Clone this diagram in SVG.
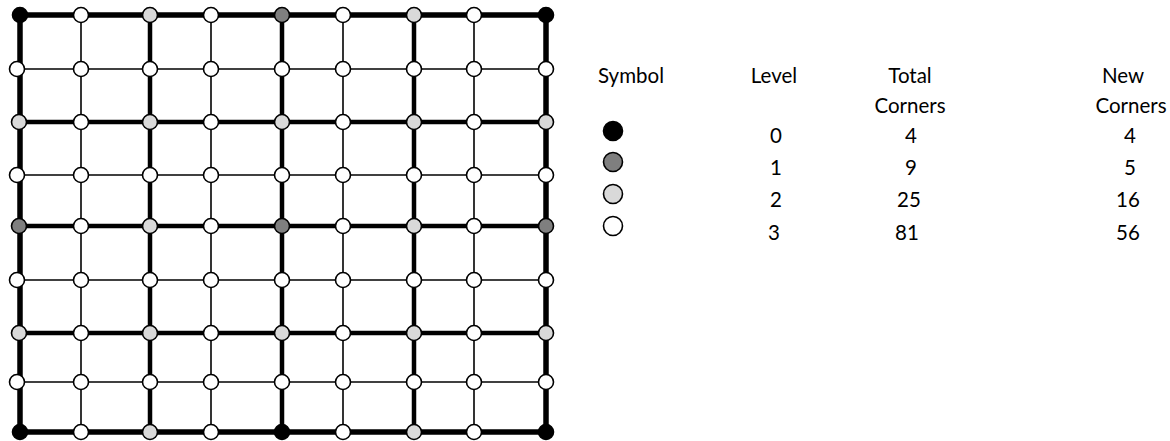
<svg xmlns="http://www.w3.org/2000/svg" width="1170" height="441" viewBox="0 0 1170 441">
<style>
.thin{stroke:#000;stroke-width:1.6;fill:none}
.thick{stroke:#000;stroke-width:4.5;fill:none}
.border{stroke:#000;stroke-width:5.5;fill:none;stroke-linecap:square}
.n{stroke:#000;stroke-width:1.6}
.l0{fill:#000}
.l1{fill:#7f7f7f}
.l2{fill:#d9d9d9}
.l3{fill:#fff}
.t{font-family:Lato,"Open Sans",sans-serif;font-size:20.5px;fill:#000;text-anchor:middle}
.s{stroke:#000;stroke-width:1.6}
</style>
<rect width="1170" height="441" fill="#fff"/>
<g id="connectors">
<line class="thin" x1="20" y1="69" x2="546" y2="69"/>
<line class="thin" x1="20" y1="175" x2="546" y2="175"/>
<line class="thin" x1="20" y1="280" x2="546" y2="280"/>
<line class="thin" x1="20" y1="382" x2="546" y2="382"/>
<line class="thin" x1="81" y1="15" x2="81" y2="432"/>
<line class="thin" x1="211" y1="15" x2="211" y2="432"/>
<line class="thin" x1="343" y1="15" x2="343" y2="432"/>
<line class="thin" x1="474" y1="15" x2="474" y2="432"/>
<line class="thick" x1="20" y1="122" x2="546" y2="122"/>
<line class="thick" x1="20" y1="226" x2="546" y2="226"/>
<line class="thick" x1="20" y1="333" x2="546" y2="333"/>
<line class="thick" x1="150" y1="15" x2="150" y2="432"/>
<line class="thick" x1="282" y1="15" x2="282" y2="432"/>
<line class="thick" x1="414" y1="15" x2="414" y2="432"/>
<rect class="border" x="20" y="15" width="526" height="417"/>
</g>
<g id="nodes">
<g id="n0-0"><circle class="n l0" cx="20" cy="15" r="7.5"/></g>
<g id="n0-1"><circle class="n l3" cx="81" cy="15" r="7.5"/></g>
<g id="n0-2"><circle class="n l2" cx="150" cy="15" r="7.5"/></g>
<g id="n0-3"><circle class="n l3" cx="211" cy="15" r="7.5"/></g>
<g id="n0-4"><circle class="n l1" cx="282" cy="15" r="7.5"/></g>
<g id="n0-5"><circle class="n l3" cx="343" cy="15" r="7.5"/></g>
<g id="n0-6"><circle class="n l2" cx="414" cy="15" r="7.5"/></g>
<g id="n0-7"><circle class="n l3" cx="474" cy="15" r="7.5"/></g>
<g id="n0-8"><circle class="n l0" cx="546" cy="15" r="7.5"/></g>

<g id="n1-0"><circle class="n l3" cx="17" cy="69" r="7.5"/></g>
<g id="n1-1"><circle class="n l3" cx="81" cy="69" r="7.5"/></g>
<g id="n1-2"><circle class="n l3" cx="150" cy="69" r="7.5"/></g>
<g id="n1-3"><circle class="n l3" cx="211" cy="69" r="7.5"/></g>
<g id="n1-4"><circle class="n l3" cx="282" cy="69" r="7.5"/></g>
<g id="n1-5"><circle class="n l3" cx="343" cy="69" r="7.5"/></g>
<g id="n1-6"><circle class="n l3" cx="414" cy="69" r="7.5"/></g>
<g id="n1-7"><circle class="n l3" cx="474" cy="69" r="7.5"/></g>
<g id="n1-8"><circle class="n l3" cx="546" cy="69" r="7.5"/></g>

<g id="n2-0"><circle class="n l2" cx="19" cy="122" r="7.5"/></g>
<g id="n2-1"><circle class="n l3" cx="81" cy="122" r="7.5"/></g>
<g id="n2-2"><circle class="n l2" cx="150" cy="122" r="7.5"/></g>
<g id="n2-3"><circle class="n l3" cx="211" cy="122" r="7.5"/></g>
<g id="n2-4"><circle class="n l2" cx="282" cy="122" r="7.5"/></g>
<g id="n2-5"><circle class="n l3" cx="343" cy="122" r="7.5"/></g>
<g id="n2-6"><circle class="n l2" cx="414" cy="122" r="7.5"/></g>
<g id="n2-7"><circle class="n l3" cx="474" cy="122" r="7.5"/></g>
<g id="n2-8"><circle class="n l2" cx="546" cy="122" r="7.5"/></g>

<g id="n3-0"><circle class="n l3" cx="17" cy="175" r="7.5"/></g>
<g id="n3-1"><circle class="n l3" cx="81" cy="175" r="7.5"/></g>
<g id="n3-2"><circle class="n l3" cx="150" cy="175" r="7.5"/></g>
<g id="n3-3"><circle class="n l3" cx="211" cy="175" r="7.5"/></g>
<g id="n3-4"><circle class="n l3" cx="282" cy="175" r="7.5"/></g>
<g id="n3-5"><circle class="n l3" cx="343" cy="175" r="7.5"/></g>
<g id="n3-6"><circle class="n l3" cx="414" cy="175" r="7.5"/></g>
<g id="n3-7"><circle class="n l3" cx="474" cy="175" r="7.5"/></g>
<g id="n3-8"><circle class="n l3" cx="546" cy="175" r="7.5"/></g>

<g id="n4-0"><circle class="n l1" cx="19" cy="226" r="7.5"/></g>
<g id="n4-1"><circle class="n l3" cx="81" cy="226" r="7.5"/></g>
<g id="n4-2"><circle class="n l2" cx="150" cy="226" r="7.5"/></g>
<g id="n4-3"><circle class="n l3" cx="211" cy="226" r="7.5"/></g>
<g id="n4-4"><circle class="n l1" cx="282" cy="226" r="7.5"/></g>
<g id="n4-5"><circle class="n l3" cx="343" cy="226" r="7.5"/></g>
<g id="n4-6"><circle class="n l2" cx="414" cy="226" r="7.5"/></g>
<g id="n4-7"><circle class="n l3" cx="474" cy="226" r="7.5"/></g>
<g id="n4-8"><circle class="n l1" cx="546" cy="226" r="7.5"/></g>

<g id="n5-0"><circle class="n l3" cx="17" cy="280" r="7.5"/></g>
<g id="n5-1"><circle class="n l3" cx="81" cy="280" r="7.5"/></g>
<g id="n5-2"><circle class="n l3" cx="150" cy="280" r="7.5"/></g>
<g id="n5-3"><circle class="n l3" cx="211" cy="280" r="7.5"/></g>
<g id="n5-4"><circle class="n l3" cx="282" cy="280" r="7.5"/></g>
<g id="n5-5"><circle class="n l3" cx="343" cy="280" r="7.5"/></g>
<g id="n5-6"><circle class="n l3" cx="414" cy="280" r="7.5"/></g>
<g id="n5-7"><circle class="n l3" cx="474" cy="280" r="7.5"/></g>
<g id="n5-8"><circle class="n l3" cx="546" cy="280" r="7.5"/></g>

<g id="n6-0"><circle class="n l2" cx="19" cy="333" r="7.5"/></g>
<g id="n6-1"><circle class="n l3" cx="81" cy="333" r="7.5"/></g>
<g id="n6-2"><circle class="n l2" cx="150" cy="333" r="7.5"/></g>
<g id="n6-3"><circle class="n l3" cx="211" cy="333" r="7.5"/></g>
<g id="n6-4"><circle class="n l2" cx="282" cy="333" r="7.5"/></g>
<g id="n6-5"><circle class="n l3" cx="343" cy="333" r="7.5"/></g>
<g id="n6-6"><circle class="n l2" cx="414" cy="333" r="7.5"/></g>
<g id="n6-7"><circle class="n l3" cx="474" cy="333" r="7.5"/></g>
<g id="n6-8"><circle class="n l2" cx="546" cy="333" r="7.5"/></g>

<g id="n7-0"><circle class="n l3" cx="17" cy="382" r="7.5"/></g>
<g id="n7-1"><circle class="n l3" cx="81" cy="382" r="7.5"/></g>
<g id="n7-2"><circle class="n l3" cx="150" cy="382" r="7.5"/></g>
<g id="n7-3"><circle class="n l3" cx="211" cy="382" r="7.5"/></g>
<g id="n7-4"><circle class="n l3" cx="282" cy="382" r="7.5"/></g>
<g id="n7-5"><circle class="n l3" cx="343" cy="382" r="7.5"/></g>
<g id="n7-6"><circle class="n l3" cx="414" cy="382" r="7.5"/></g>
<g id="n7-7"><circle class="n l3" cx="474" cy="382" r="7.5"/></g>
<g id="n7-8"><circle class="n l3" cx="546" cy="382" r="7.5"/></g>

<g id="n8-0"><circle class="n l0" cx="20" cy="432" r="7.5"/></g>
<g id="n8-1"><circle class="n l3" cx="81" cy="432" r="7.5"/></g>
<g id="n8-2"><circle class="n l2" cx="150" cy="432" r="7.5"/></g>
<g id="n8-3"><circle class="n l3" cx="211" cy="432" r="7.5"/></g>
<g id="n8-4"><circle class="n l0" cx="282" cy="432" r="7.5"/></g>
<g id="n8-5"><circle class="n l3" cx="343" cy="432" r="7.5"/></g>
<g id="n8-6"><circle class="n l2" cx="414" cy="432" r="7.5"/></g>
<g id="n8-7"><circle class="n l3" cx="474" cy="432" r="7.5"/></g>
<g id="n8-8"><circle class="n l0" cx="546" cy="432" r="7.5"/></g>
</g>
<g id="legend">
<g id="header">
<text class="t" x="631" y="83">Symbol</text>
<text class="t" x="774" y="83">Level</text>
<text class="t" x="910" y="83">Total</text>
<text class="t" x="910" y="113">Corners</text>
<text class="t" x="1123" y="83">New</text>
<text class="t" x="1131" y="113">Corners</text>
</g>
<g id="row0">
<circle class="s l0" cx="613" cy="131" r="9.5"/>
<text class="t" x="776" y="143">0</text>
<text class="t" x="911" y="143">4</text>
<text class="t" x="1130" y="143">4</text>
</g>
<g id="row1">
<circle class="s l1" cx="613" cy="162" r="9.5"/>
<text class="t" x="776" y="175">1</text>
<text class="t" x="911" y="175">9</text>
<text class="t" x="1130" y="175">5</text>
</g>
<g id="row2">
<circle class="s l2" cx="613" cy="194" r="9.5"/>
<text class="t" x="776" y="207">2</text>
<text class="t" x="909" y="207">25</text>
<text class="t" x="1128" y="207">16</text>
</g>
<g id="row3">
<circle class="s l3" cx="613" cy="226" r="9.5"/>
<text class="t" x="774" y="240">3</text>
<text class="t" x="907" y="240">81</text>
<text class="t" x="1128" y="240">56</text>
</g>
</g>
</svg>
